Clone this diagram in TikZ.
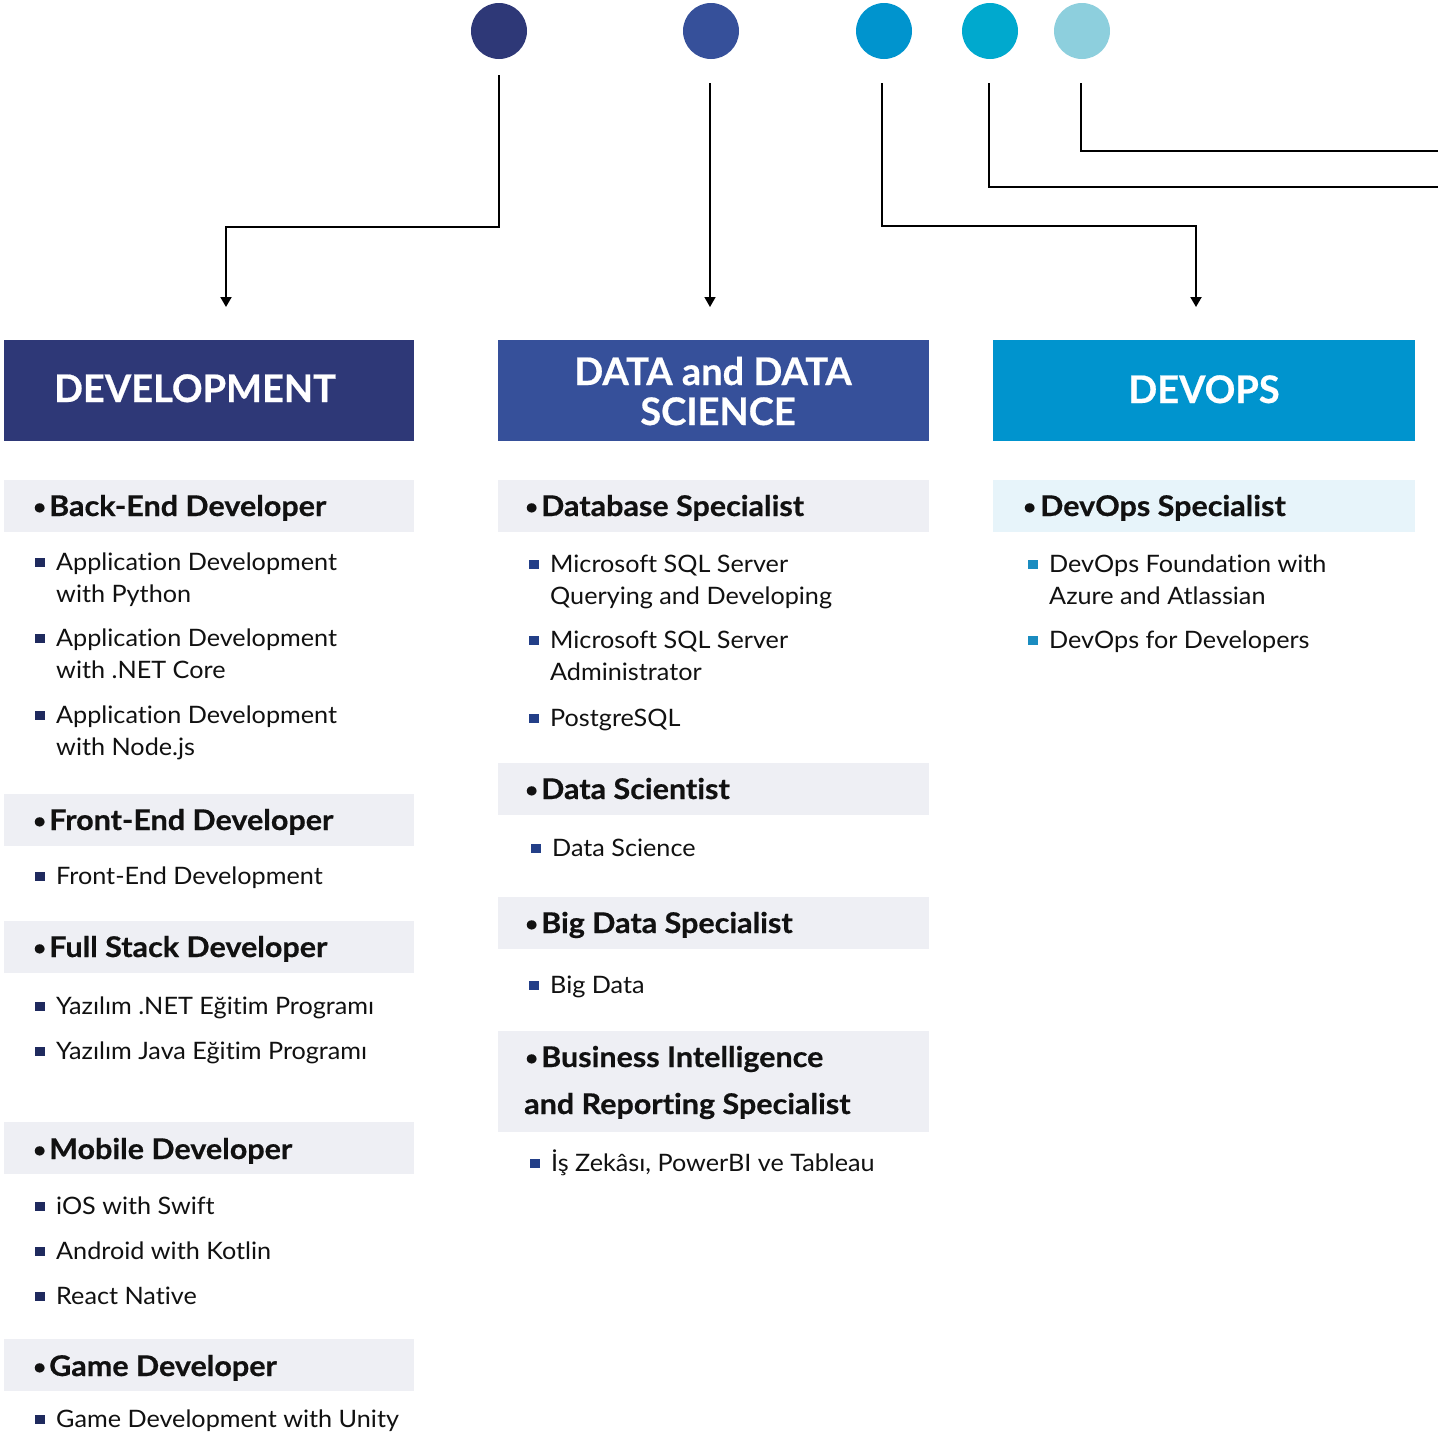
\documentclass[tikz,border=0pt]{standalone}
\usepackage{fontspec}
\setmainfont{Lato}[Ligatures=NoCommon]
\usetikzlibrary{arrows.meta}
\definecolor{cnavy}{HTML}{2E3877}
\definecolor{cblue}{HTML}{36509A}
\definecolor{cdev}{HTML}{0094CE}
\definecolor{ccyan}{HTML}{00A9CE}
\definecolor{clight}{HTML}{8DCFDD}
\definecolor{bargray}{HTML}{EEEFF4}
\definecolor{barblue}{HTML}{E7F4FA}
\definecolor{ink}{HTML}{111111}
\definecolor{sqdev}{HTML}{1F2A5E}
\definecolor{sqdata}{HTML}{233F88}
\definecolor{sqops}{HTML}{1A8CC0}
\newcommand\itm[4]{%
  \fill[#1] (#2-5,#3-12) rectangle (#2+5,#3-3);
  \node[item] at (#2+16,#3) {#4};}
\newcommand\cont[3]{\node[item] at (#1+16,#2) {#3};}
\newcommand\bul[1]{\makebox[#1][l]{\raisebox{1pt}{\fontsize{24}{24}\selectfont\mdseries •}}}
\begin{document}
\begin{tikzpicture}[x=1pt,y=-1pt,
  hdr/.style={text=white,font=\bfseries\fontsize{38}{40}\selectfont\addfontfeatures{FakeBold=0.5},anchor=base,inner sep=0},
  sub/.style={anchor=base west,inner sep=0,font=\bfseries\fontsize{28.5}{30}\selectfont\addfontfeatures{FakeStretch=1.07,FakeBold=0.6},text=ink},
  item/.style={anchor=base west,inner sep=0,font=\fontsize{24}{32}\selectfont\addfontfeatures{FakeStretch=1.05},text=ink},
  dot/.style={circle,inner sep=0,minimum size=56pt},
  conn/.style={line width=2pt,draw=black},
  tip/.style={-{Triangle[width=11pt,length=10pt]}}
]
\useasboundingbox (0,0) rectangle (1438,1435);
\fill[white] (0,0) rectangle (1438,1435);

% circles
\node[dot,fill=cnavy] (c1) at (499,31) {};
\node[dot,fill=cblue] (c2) at (711,31) {};
\node[dot,fill=cdev] (c3) at (884,31) {};
\node[dot,fill=ccyan] (c4) at (990,31) {};
\node[dot,fill=clight] (c5) at (1082,31) {};

% connector coordinates
\coordinate (s1) at (499,75);
\coordinate (b1) at (499,227);
\coordinate (e1) at (226,307);
\coordinate (s2) at (710,83);
\coordinate (e2) at (710,307);
\coordinate (s3) at (882,83);
\coordinate (b3) at (882,226);
\coordinate (e3) at (1196,307);
\coordinate (s4) at (989,83);
\coordinate (e4) at (1440,187);
\coordinate (s5) at (1081,83);
\coordinate (e5) at (1440,151);

\draw[conn,tip] (s1) -- (b1) -| (e1);
\draw[conn,tip,line width=1.6pt] (s2) -- (e2);
\draw[conn,tip] (s3) -- (b3) -| (e3);
\draw[conn] (s4) |- (e4);
\draw[conn] (s5) |- (e5);

% headers
\fill[cnavy] (4,340) rectangle (414,441);
\fill[cblue] (498,340) rectangle (929,441);
\fill[cdev] (993,340) rectangle (1415,441);
\node[hdr] (hdev) at (195,402) {DEVELOPMENT};
\node[hdr] (hdata1) at (713,385) {DATA and DATA};
\node[hdr] (hdata2) at (718,425) {SCIENCE};
\node[hdr] (hops) at (1204,403) {DEVOPS};

% sub bars
\fill[bargray] (4,480) rectangle (414,532);
\fill[bargray] (4,794) rectangle (414,846);
\fill[bargray] (4,921) rectangle (414,973);
\fill[bargray] (4,1122) rectangle (414,1174);
\fill[bargray] (4,1339) rectangle (414,1391);
\fill[bargray] (498,480) rectangle (929,532);
\fill[bargray] (498,763) rectangle (929,815);
\fill[bargray] (498,897) rectangle (929,949);
\fill[bargray] (498,1031) rectangle (929,1132);
\fill[barblue] (993,480) rectangle (1415,532);

% sub headings
\node[sub] at (32,516) {\bul{17pt}Back-End Developer};
\node[sub] at (32,830) {\bul{17pt}Front-End Developer};
\node[sub] at (32,957) {\bul{17pt}Full Stack Developer};
\node[sub] at (32,1159) {\bul{17pt}Mobile Developer};
\node[sub] at (32,1376) {\bul{17pt}Game Developer};
\node[sub] at (524,516) {\bul{17pt}Database Specialist};
\node[sub] at (524,799) {\bul{17pt}Data Scientist};
\node[sub] at (524,933) {\bul{17pt}Big Data Specialist};
\node[sub] at (524,1067) {\bul{17pt}Business Intelligence};
\node[sub] at (524,1114) {and Reporting Specialist};
\node[sub] at (1022,516) {\bul{18pt}DevOps Specialist};

% development items
\itm{sqdev}{40}{570}{Application Development}
\cont{40}{602}{with Python}
\itm{sqdev}{40}{646}{Application Development}
\cont{40}{678}{with .NET Core}
\itm{sqdev}{40}{723}{Application Development}
\cont{40}{755}{with Node.js}
\itm{sqdev}{40}{884}{Front-End Development}
\itm{sqdev}{40}{1014}{Yazılım .NET Eğitim Programı}
\itm{sqdev}{40}{1059}{Yazılım Java Eğitim Programı}
\itm{sqdev}{40}{1214}{iOS with Swift}
\itm{sqdev}{40}{1259}{Android with Kotlin}
\itm{sqdev}{40}{1304}{React Native}
\itm{sqdev}{40}{1427}{Game Development with Unity}

% data items
\itm{sqdata}{534}{572}{Microsoft SQL Server}
\cont{534}{604}{Querying and Developing}
\itm{sqdata}{534}{648}{Microsoft SQL Server}
\cont{534}{680}{Administrator}
\itm{sqdata}{534}{726}{PostgreSQL}
\itm{sqdata}{536}{856}{Data Science}
\itm{sqdata}{534}{993}{Big Data}
\itm{sqdata}{535}{1171}{İş Zekâsı, PowerBI ve Tableau}

% devops items
\itm{sqops}{1033}{572}{DevOps Foundation with}
\cont{1033}{604}{Azure and Atlassian}
\itm{sqops}{1033}{648}{DevOps for Developers}
\end{tikzpicture}
\end{document}
